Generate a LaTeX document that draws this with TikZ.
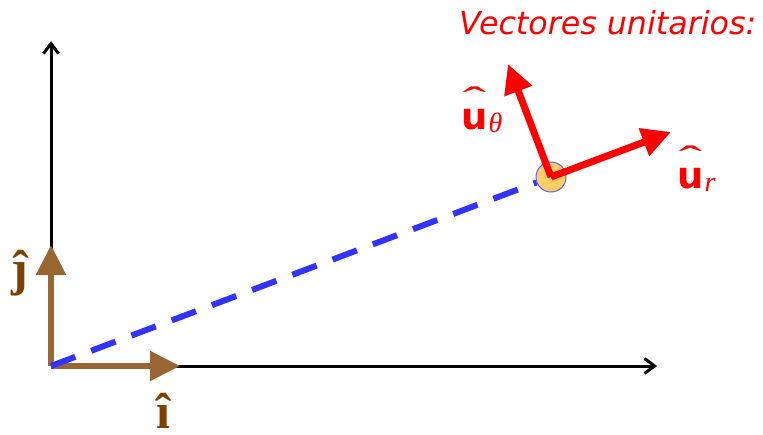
\documentclass[tikz,border=0pt]{standalone}
\usepackage{fontspec}
\usepackage{graphicx}
\usetikzlibrary{arrows.meta}
\newfontfamily\sansfam{DejaVu Sans}
\newfontfamily\seriffam{Liberation Serif}
\definecolor{axisbrown}{RGB}{153,102,51}
\definecolor{labelbrown}{RGB}{128,64,0}
\definecolor{dashblue}{RGB}{51,51,255}
\definecolor{dotfill}{RGB}{255,204,102}

% unit vector u with a thin wide hat and an italic index
\newcommand{\unitvec}[1]{%
 \setbox0=\hbox{\sansfam\bfseries\fontsize{37}{37}\selectfont u}%
 \rlap{\hbox to\wd0{\hss\raisebox{17pt}{\scalebox{1.5}[0.8]{\seriffam\fontsize{46}{46}\selectfont\char"02C6}}\hss}}\box0%
 \kern1pt\raisebox{-3pt}{\seriffam\itshape\fontsize{28}{28}\selectfont #1}}

\begin{document}
\begin{tikzpicture}[x=1pt, y=-1pt,
 axis/.style={line width=3pt, -{Straight Barb[length=10pt,width=15pt]}},
 basis/.style={axisbrown, line width=5.5pt, -{Triangle[length=30pt,width=29pt]}},
 polar/.style={red, line width=7pt, -{Triangle[length=29pt,width=28pt]}},
 blab/.style={text=labelbrown, font=\seriffam\bfseries\fontsize{50}{50}\selectfont, anchor=base, inner sep=0pt},
 ulab/.style={text=red, anchor=base west, inner sep=0pt}]
 \useasboundingbox (0,0) rectangle (763,434);

 % --- axes ---
 \coordinate (O) at (51,366);
 \coordinate (xend) at (657,366);
 \coordinate (yend) at (51,41);
 \draw[axis] (O) -- (xend);
 \draw[axis] (O) -- (yend);

 % --- cartesian unit vectors ---
 \coordinate (itip) at (180,366);
 \coordinate (jtip) at (51,245);
 \draw[basis] (O) -- (itip);
 \draw[basis] (O) -- (jtip);
 \node[blab] (ilab) at (163,428) {î};
 \node[blab] (jlab) at (20,285) {ĵ};

 % --- position and polar unit vectors ---
 \node[circle, minimum size=30pt, inner sep=0pt, fill=dotfill, draw=dashblue!80, line width=1pt] (P) at (551,177) {};
 \draw[dashblue, line width=6pt, dash pattern=on 26pt off 17pt] (O) -- (P);
 \coordinate (urtip) at (671,132);
 \coordinate (uttip) at (508,64);
 \draw[polar] (P.center) -- (urtip);
 \draw[polar] (P.center) -- (uttip);
 \node[ulab] (urlab) at (677,188) {\unitvec{r}};
 \node[ulab] (utlab) at (461,129) {\unitvec{θ}};

 \node[anchor=base west, inner sep=0pt, text=red, font=\sansfam\itshape\fontsize{31.7}{36}\selectfont] (title) at (459,34) {Vectores unitarios:};
\end{tikzpicture}
\end{document}
